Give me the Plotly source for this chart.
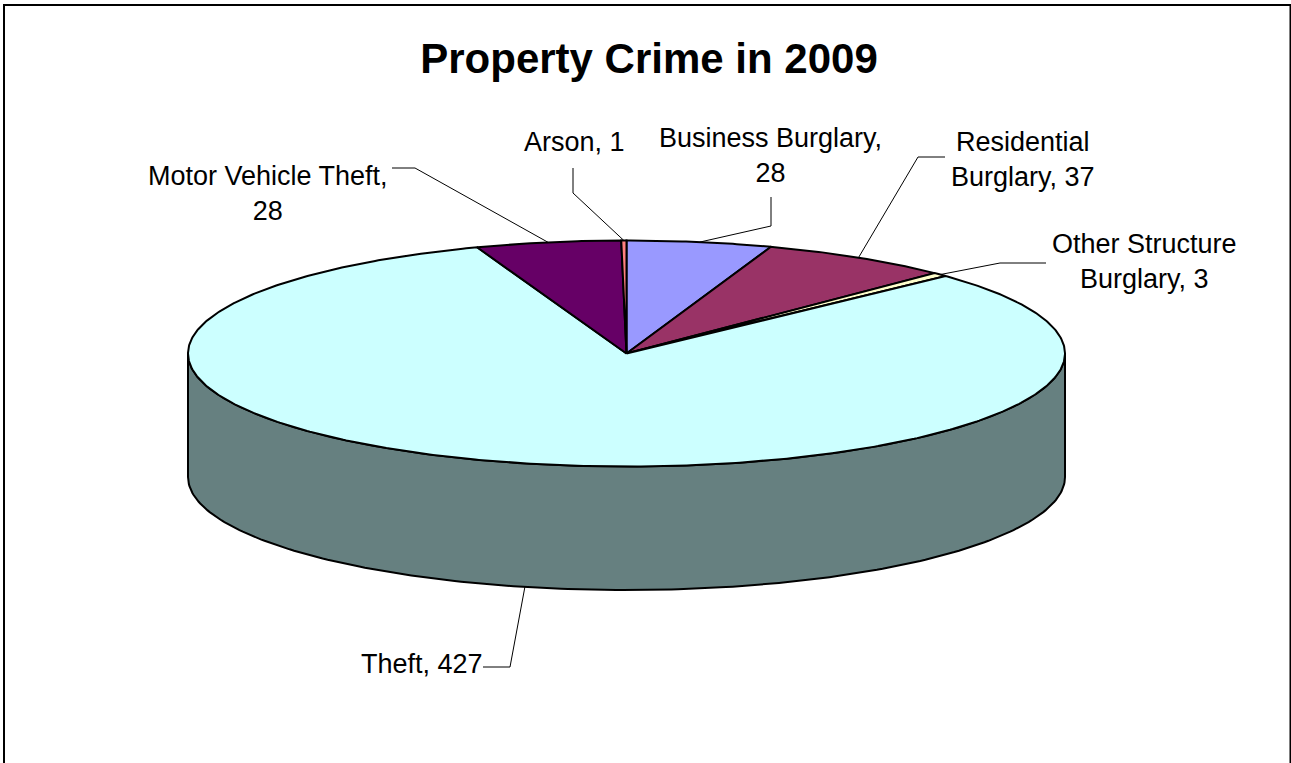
import numpy as np
import plotly.graph_objects as go

# Data, clockwise from 12 o'clock
categories = ["Business Burglary", "Residential Burglary", "Other Structure Burglary",
              "Theft", "Motor Vehicle Theft", "Arson"]
values = [28, 37, 3, 427, 28, 1]
colors = ["#9999FF", "#993366", "#FFFFCC", "#CCFFFF", "#660066", "#FF8080"]
side_color = "#668080"
label_text = ["Business Burglary,<br>28", "Residential<br>Burglary, 37",
              "Other Structure<br>Burglary, 3", "Theft, 427",
              "Motor Vehicle Theft,<br>28", "Arson, 1"]
title_text = "Property Crime in 2009"

# Layout of the projected pie, in pixels
W, H = 1291, 763
CX, CY, RX, RY, DEPTH = 626.5, 353.5, 438.5, 113, 123.5
label_pos = [(770, 155), (1023, 159), (1144, 261), (421.5, 664), (268, 193), (574, 142)]
leader_elbows = [[(771, 197), (771, 226)], [(945, 157), (918, 157)], [(1046, 263), (1000, 263)],
                 [(483, 667), (510, 667)], [(392, 168), (415, 168)], [(573, 168), (573, 193)]]


def rim(a0, a1, n=120):
    t = np.radians(np.linspace(a0, a1, n))
    return CX + RX * np.sin(t), CY - RY * np.cos(t)


fig = go.Figure()
total = sum(values)
edges = np.cumsum([0] + values) / total * 360

# Side wall: the front half of the rim, extruded downward (only Theft shows there)
xs, ys = rim(90, 270, 200)
fig.add_trace(go.Scatter(
    x=np.r_[xs, xs[::-1], xs[0]], y=np.r_[ys, ys[::-1] + DEPTH, ys[0]],
    mode="lines", fill="toself", fillcolor=side_color,
    line=dict(color="black", width=2), hoverinfo="skip", showlegend=False))

# Top face slices
for name, v, c, a0, a1 in zip(categories, values, colors, edges[:-1], edges[1:]):
    x, y = rim(a0, a1, max(int(a1 - a0) * 2, 4))
    fig.add_trace(go.Scatter(
        x=np.r_[CX, x, CX], y=np.r_[CY, y, CY], mode="lines", fill="toself", fillcolor=c,
        line=dict(color="black", width=2), name=name, text=f"{name}, {v}",
        hoverinfo="text", showlegend=False))

# Leader lines
for i, (elbow, a0, a1) in enumerate(zip(leader_elbows, edges[:-1], edges[1:])):
    mx, my = rim((a0 + a1) / 2, (a0 + a1) / 2, 1)
    off = DEPTH if categories[i] == "Theft" else 0
    fig.add_trace(go.Scatter(
        x=[p[0] for p in elbow] + [mx[0]], y=[p[1] for p in elbow] + [my[0] + off],
        mode="lines", line=dict(color="black", width=1), hoverinfo="skip", showlegend=False))

annotations = [dict(x=p[0], y=p[1], xref="x", yref="y", text=t, showarrow=False,
                    xanchor="center", yanchor="middle", align="center",
                    font=dict(family="Liberation Sans", size=27, color="black"))
               for t, p in zip(label_text, label_pos)]

# Chart frame: left, top and right only (the bottom runs off the image)
frame = dict(type="path", path=f"M 4 {H+5} L 4 5 L 1290.5 5 L 1290.5 {H+5}",
             line=dict(color="black", width=2), xref="x", yref="y")

fig.update_layout(
    width=W, height=H, margin=dict(l=0, r=0, t=0, b=0),
    paper_bgcolor="white", plot_bgcolor="white",
    title=dict(text=f"<b>{title_text}</b>", x=649 / W, y=1 - 58 / H, xanchor="center", yanchor="middle",
               font=dict(family="Liberation Sans", size=42, color="black")),
    xaxis=dict(range=[0, W], visible=False, fixedrange=True),
    yaxis=dict(range=[H, 0], visible=False, fixedrange=True),
    annotations=annotations, shapes=[frame], showlegend=False)

fig.write_html("out.html", config={"displayModeBar": False},
               post_script="document.body.style.margin='0';document.documentElement.style.overflow='hidden';")
